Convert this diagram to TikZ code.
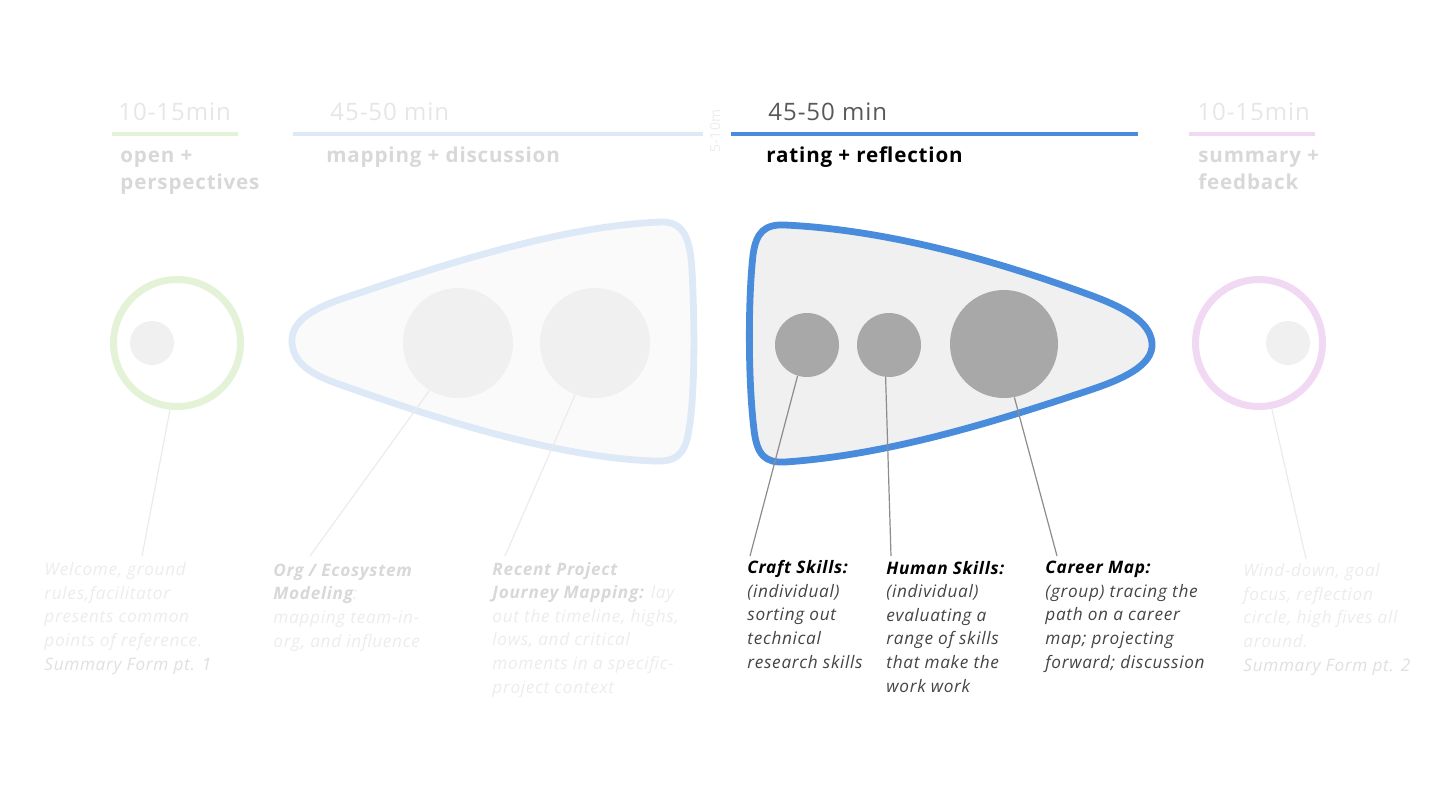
\documentclass[tikz,border=0pt]{standalone}
\usepackage{fontspec}
\setmainfont{Open Sans}[LetterSpace=4]
\definecolor{openGreen}{HTML}{E4F3D8}
\definecolor{fadeBlue}{HTML}{DDE9F7}
\definecolor{actBlue}{HTML}{4A8CDC}
\definecolor{endPink}{HTML}{F1D9F4}
\definecolor{fadeText}{HTML}{ECECEC}
\definecolor{fadeHead}{HTML}{D8D8D8}
\definecolor{fadeTime}{HTML}{E6E6E6}
\definecolor{actText}{HTML}{444444}
\begin{document}
\begin{tikzpicture}[x=0.5pt, y=-0.5pt,
  time/.style={font=\fontsize{12}{14}\selectfont, anchor=base west, inner sep=0pt},
  phase/.style={font=\fontsize{10.3}{13.5}\selectfont\bfseries, anchor=base west,
                inner sep=0pt, align=left},
  bar/.style={line width=2pt},
  ring/.style={circle, draw, line width=3.5pt, minimum size=63.5pt, inner sep=0pt, fill=white},
  dot/.style={circle, inner sep=0pt, minimum size=#1},
  pod/.style={line width=3.4pt, line join=round},
  note/.style={font=\fontsize{8.6}{11.8}\selectfont\itshape, anchor=base west,
               inner sep=0pt, align=left},
  lead/.style={line width=0.6pt}
]
\useasboundingbox (0,0) rectangle (1440,810);
% timeline headers
\node[time, fadeTime] (t1) at (118,120) {10-15min};
\draw[bar, openGreen] (112,134) -- (238,134);
\node[phase, fadeHead] (h1) at (120,189) {open +\\perspectives};
\node[time, fadeTime] (t2) at (330,120) {45-50 min};
\draw[bar, fadeBlue] (293,134) -- (703,134);
\node[phase, fadeHead] (h2) at (326,162) {mapping + discussion};
\node[font=\fontsize{7}{8}\selectfont, fadeText, rotate=90, inner sep=0pt] (brk) at (715,131) {5-10m};
\node[time, black!65] (t3) at (768,120) {45-50 min};
\draw[bar, actBlue] (731,134) -- (1138,134);
\node[phase, black] (h3) at (766,162) {rating + reflection};
\node[time, fadeTime] (t4) at (1197,120) {10-15min};
\draw[bar, endPink] (1189,134) -- (1315,134);
\node[phase, fadeHead] (h4) at (1198,189) {summary +\\feedback};

% opening
\node[ring, draw=openGreen] (open) at (177,343) {};
\node[dot=22pt, fill=black!6] (open1) at (152,343) {};

% mapping + discussion
\draw[pod, fadeBlue, fill=black!2] (292,343)
  .. controls (290,318) and (320,306) .. (350,296)
  .. controls (440,266) and (560,226) .. (660,222)
  .. controls (685,221) and (690,240) .. (692,270)
  .. controls (695,330) and (695,400) .. (688,435)
  .. controls (684,455) and (675,462) .. (655,461)
  .. controls (560,458) and (440,420) .. (350,388)
  .. controls (320,378) and (294,368) .. cycle;
\node[dot=55pt, fill=black!6] (org) at (458,343) {};
\node[dot=55pt, fill=black!6] (jrny) at (595,343) {};

% rating + reflection
\draw[pod, actBlue, fill=black!6] (1152,343)
  .. controls (1154,366) and (1120,380) .. (1090,390)
  .. controls (1000,420) and (890,455) .. (785,462)
  .. controls (765,463) and (757,455) .. (754,430)
  .. controls (748,380) and (748,300) .. (753,255)
  .. controls (756,232) and (765,224) .. (785,225)
  .. controls (890,230) and (1000,262) .. (1090,295)
  .. controls (1120,306) and (1150,320) .. cycle;
\node[dot=32pt, fill=black!34] (craft) at (807,345) {};
\node[dot=32pt, fill=black!34] (human) at (889,345) {};
\node[dot=54pt, fill=black!34] (career) at (1004,344) {};

% summary
\node[ring, draw=endPink] (sum) at (1259,343) {};
\node[dot=22pt, fill=black!6] (sum1) at (1288,343) {};

% notes (placed by the baseline of their last line)
\node[note, fadeText] (n1) at (44,670) {Welcome, ground\\rules,facilitator\\presents common\\points of reference.\\{\color{black!12}Summary Form pt. 1}};
\node[note, fadeText] (n2) at (273,647) {{\bfseries\color{fadeHead}Org / Ecosystem}\\{\bfseries\color{fadeHead}Modeling}:\\mapping team-in-\\org, and influence};
\node[note, fadeText] (n3) at (492,693) {{\bfseries\color{fadeHead}Recent Project}\\{\bfseries\color{fadeHead}Journey Mapping:} lay\\out the timeline, highs,\\lows, and critical\\moments in a specific-\\project context};
\node[note, actText] (n4) at (747,668) {{\bfseries\color{black}Craft Skills:}\\(individual)\\sorting out\\technical\\research skills};
\node[note, actText] (n5) at (886,692) {{\bfseries\color{black}Human Skills:}\\(individual)\\evaluating a\\range of skills\\that make the\\work work};
\node[note, actText] (n6) at (1045,668) {{\bfseries\color{black}Career Map:}\\(group) tracing the\\path on a career\\map; projecting\\forward; discussion};
\node[note, fadeText] (n7) at (1243,671) {Wind-down, goal\\focus, reflection\\circle, high fives all\\around.\\{\color{black!12}Summary Form pt. 2}};

% leader lines
\coordinate (e1) at (142,556);
\coordinate (e2) at (310,556);
\coordinate (e3) at (505,556);
\coordinate (e4) at (750,556);
\coordinate (e5) at (891,556);
\coordinate (e6) at (1057,556);
\coordinate (e7) at (1306,559);
\draw[lead, black!8] (open.264) -- (e1);
\draw[lead, black!8] (org.239) -- (e2);
\draw[lead, black!8] (jrny.249) -- (e3);
\draw[lead, black!45] (craft.253) -- (e4);
\draw[lead, black!45] (human.264) -- (e5);
\draw[lead, black!45] (career.281) -- (e6);
\draw[lead, black!8] (sum.281) -- (e7);
\end{tikzpicture}
\end{document}
